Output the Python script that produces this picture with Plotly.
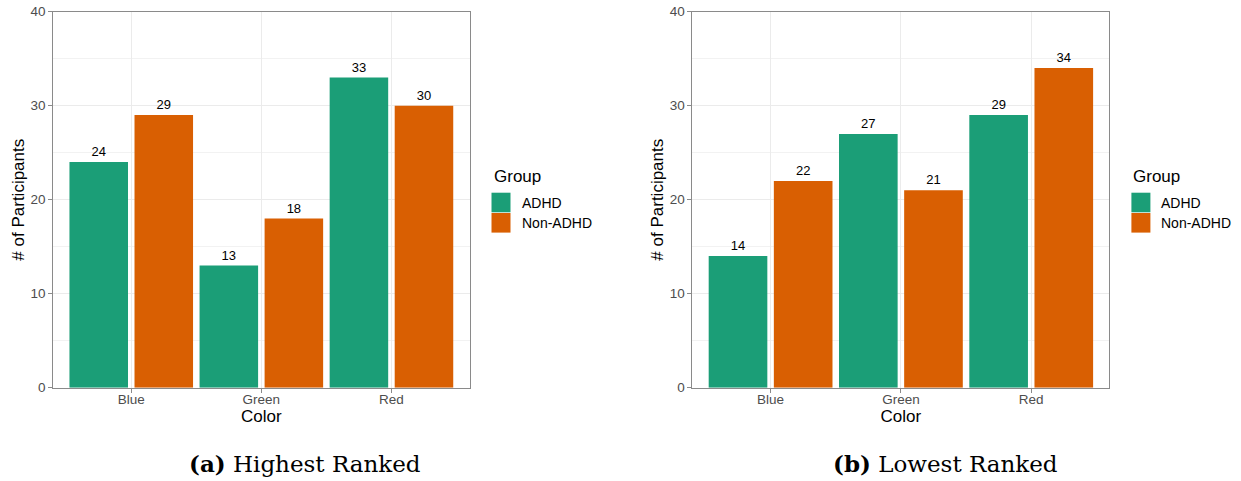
import plotly.graph_objects as go

# Counts of participants choosing each colour, by group
colors = ["Blue", "Green", "Red"]
groups = ["ADHD", "Non-ADHD"]
highest_adhd = [24, 13, 33]
highest_non_adhd = [29, 18, 30]
lowest_adhd = [14, 27, 29]
lowest_non_adhd = [22, 21, 34]
y_ticks = [0, 10, 20, 30, 40]
captions = ["<b>(a)</b> Highest Ranked", "<b>(b)</b> Lowest Ranked"]

palette = {"ADHD": "#1B9E77", "Non-ADHD": "#D95F02"}
sans = "Liberation Sans, Arial, sans-serif"
serif = "DejaVu Serif, serif"
W, H = 1241, 481

panels = [
    {"xaxis": "x", "yaxis": "y", "dom": [53.2, 469.5], "cap_x": 304.5,
     "data": [highest_adhd, highest_non_adhd]},
    {"xaxis": "x2", "yaxis": "y2", "dom": [692.4, 1109.4], "cap_x": 945.0,
     "data": [lowest_adhd, lowest_non_adhd]},
]
y_dom = [1 - 387.7 / H, 1 - 11.7 / H]

fig = go.Figure()
for p in panels:
    for g, vals in zip(groups, p["data"]):
        fig.add_trace(go.Bar(
            x=colors, y=vals, name=g,
            marker=dict(color=palette[g], line=dict(width=0)),
            text=[str(v) for v in vals], textposition="outside",
            textfont=dict(family=sans, size=13, color="#000000"),
            cliponaxis=False, showlegend=False,
            xaxis=p["xaxis"], yaxis=p["yaxis"],
        ))

border = "#8a8a8a"
grid = "#ebebeb"
axis_common = dict(
    showline=True, linecolor=border, linewidth=1, mirror=True,
    ticks="outside", ticklen=4, tickcolor=border, tickwidth=1,
    tickfont=dict(family=sans, size=13.5, color="#4d4d4d"),
    showgrid=True, gridcolor=grid, gridwidth=1, zeroline=False,
    automargin=False,
)

layout = dict(
    width=W, height=H, margin=dict(l=0, r=0, t=0, b=0, autoexpand=False),
    paper_bgcolor="white", plot_bgcolor="white",
    barmode="group", bargap=0.0, bargroupgap=0.1,
    showlegend=False, annotations=[], shapes=[],
)

for i, p in enumerate(panels):
    sx = "" if i == 0 else "2"
    layout["xaxis" + sx] = dict(
        axis_common, domain=[p["dom"][0] / W, p["dom"][1] / W],
        range=[-0.6, 2.6], anchor="y" + sx, type="category",
        ticklabelstandoff=-5,
        title=dict(text="Color", font=dict(family=sans, size=17, color="#000000"), standoff=2),
    )
    layout["yaxis" + sx] = dict(
        axis_common, domain=y_dom, range=[0, 40], anchor="x" + sx,
        tickvals=y_ticks, ticktext=[str(t) for t in y_ticks],
        minor=dict(dtick=5, tick0=0, showgrid=True, gridcolor="#f2f2f2", gridwidth=0.6, ticks=""),
        title=dict(text="# of Participants", font=dict(family=sans, size=17, color="#000000"), standoff=1),
    )

    # Legend drawn beside each panel
    lx = p["dom"][1] + 22
    layout["annotations"].append(dict(
        xref="paper", yref="paper", x=lx / W, y=1 - 176 / H, xanchor="left", yanchor="middle",
        text="Group", showarrow=False, font=dict(family=sans, size=17, color="#000000"),
    ))
    for k, g in enumerate(groups):
        top = 192.7 + k * 20.3
        layout["shapes"].append(dict(
            type="rect", xref="paper", yref="paper",
            x0=lx / W, x1=(lx + 19) / W, y0=1 - (top + 19.6) / H, y1=1 - top / H,
            fillcolor=palette[g], line=dict(width=0),
        ))
        layout["annotations"].append(dict(
            xref="paper", yref="paper", x=(lx + 28) / W, y=1 - (top + 10) / H,
            xanchor="left", yanchor="middle", text=g, showarrow=False,
            font=dict(family=sans, size=14, color="#000000"),
        ))

    # Sub-figure caption
    layout["annotations"].append(dict(
        xref="paper", yref="paper", x=p["cap_x"] / W, y=1 - 463 / H,
        xanchor="center", yanchor="middle", text=captions[i], showarrow=False,
        font=dict(family=serif, size=23, color="#000000"),
    ))

fig.update_layout(**layout)
fig.write_html("out.html")
